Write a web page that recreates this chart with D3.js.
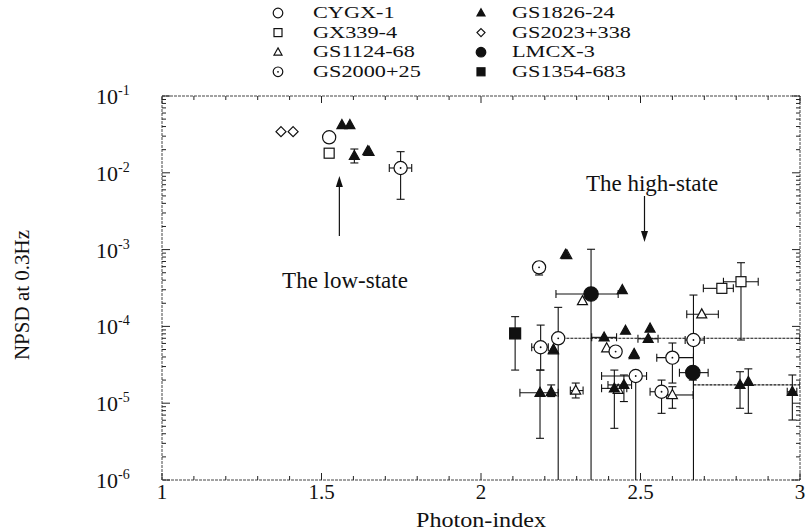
<!DOCTYPE html>
<html><head><meta charset="utf-8">
<script src="https://cdn.jsdelivr.net/npm/d3@7/dist/d3.min.js"></script>
<style>body{margin:0;background:#fff}svg{display:block}</style>
</head><body><svg id="c" width="811" height="532" font-family="'Liberation Serif','DejaVu Serif',serif"></svg>
<script>
// Each row: [photonIndex, NPSD, xLow, xHigh, yLow, yHigh]
const cygx1 = [[1.524, 0.029]];
const gx339 = [[1.524, 0.018], [2.755, 3.13e-4, 2.697, 2.791], [2.815, 3.82e-4, 2.760, 2.869, 6.65e-5, 6.75e-4]];
const gs1124 = [[1.649, 0.0188], [2.269, 8.5e-4], [2.318, 2.14e-4], [2.227, 4.9e-5], [2.394, 5.2e-5], [2.480, 4.25e-5],
  [2.692, 1.44e-4, 2.645, 2.744], [2.600, 1.28e-5, 2.582, 2.665, 8.59e-6, 1.64e-5], [2.297, 1.46e-5, 2.28, 2.32, 1.17e-5, 1.83e-5], [2.43, 1.5e-5]];
const gs2000 = [[1.748, 0.01155, 1.7125, 1.7828, 0.00452, 0.01884], [2.182, 5.87e-4, null, null, 4.67e-4, 6.95e-4],
  [2.242, 7.0e-5, 2.23, 3.0, 1e-7, 1.77e-4], [2.187, 5.35e-5, 2.159, 2.211, 2.7e-5, 1.04e-4], [2.422, 4.7e-5],
  [2.485, 2.26e-5, 2.378, 2.519, 1e-7, 2.6e-5], [2.666, 6.65e-5, 2.64, 2.70, 1e-7, 2.56e-4],
  [2.600, 3.92e-5, 2.551, 2.666, 1.83e-5, 6.08e-5], [2.566, 1.41e-5, 2.530, 2.582, 7.38e-6, 2.0e-5]];
const gs1826 = [[1.564, 0.042], [1.589, 0.042], [1.603, 0.0166, null, null, 0.01343, 0.0204], [1.645, 0.0192], [2.265, 8.6e-4],
  [2.443, 2.98e-4], [2.386, 7.2e-5, 2.347, 2.425], [2.453, 8.8e-5], [2.530, 9.4e-5], [2.524, 6.9e-5, 2.492, 2.555],
  [2.227, 5.0e-5], [2.480, 4.4e-5], [2.812, 1.73e-5, 2.666, 3.0, 8.59e-6, 2.57e-5], [2.838, 1.9e-5, null, null, 7.38e-6, 2.8e-5],
  [2.976, 1.41e-5, 2.96, 2.99, 6.04e-6, 2.33e-5], [2.185, 1.37e-5, 2.122, 2.242, 3.49e-6, 2.7e-5], [2.22, 1.4e-5, null, null, 1.22e-5, 1.73e-5],
  [2.418, 1.56e-5, 2.378, 2.457, 4.71e-6, 2.7e-5], [2.448, 1.73e-5, 2.398, 2.472, 1.05e-5, 2.33e-5]];
const gs2023 = [[1.373, 0.0343], [1.411, 0.0343]];
const lmcx3 = [[2.345, 2.64e-4, 2.235, 2.430, 1e-7, 1.01e-3], [2.664, 2.5e-5, 2.622, 2.712, 2.0e-5, 3.0e-5]];
const gs1354 = [[2.107, 8.1e-5, null, null, 2.7e-5, 1.34e-4]];

const seriesNames = ["CYGX-1", "GX339-4", "GS1124-68", "GS2000+25", "GS1826-24", "GS2023+338", "LMCX-3", "GS1354-683"];
const seriesData = [cygx1, gx339, gs1124, gs2000, gs1826, gs2023, lmcx3, gs1354];
const seriesShape = ["circle", "square", "triangle", "dotcircle", "ftriangle", "diamond", "fcircle", "fsquare"];
const xTicks = [1, 1.5, 2, 2.5, 3];
const yTicks = [1e-1, 1e-2, 1e-3, 1e-4, 1e-5, 1e-6];
const yTickExp = ["-1", "-2", "-3", "-4", "-5", "-6"];

const svg = d3.select("#c");
const L = 162, R = 800, T = 96, B = 480;
const x = d3.scaleLinear().domain([1, 3]).range([L, R]);
const y = d3.scaleLog().domain([1e-6, 1e-1]).range([B, T]);

svg.append("defs").append("clipPath").attr("id", "pc").append("rect").attr("x", L).attr("y", T).attr("width", R - L).attr("height", B - T);

// frame
svg.append("rect").attr("x", L).attr("y", T).attr("width", R - L).attr("height", B - T)
  .attr("fill", "none").attr("stroke", "#444").attr("stroke-width", 1).attr("stroke-dasharray", "3,1");

// axes with inward ticks
const ax = svg.append("g").attr("stroke", "#222").attr("stroke-width", 1);
d3.range(1, 3.0001, 0.1).forEach(v => {
  const major = Math.abs(v * 2 - Math.round(v * 2)) < 1e-6;
  const len = major ? 7 : 4;
  ax.append("line").attr("x1", x(v)).attr("x2", x(v)).attr("y1", B).attr("y2", B - len);
  ax.append("line").attr("x1", x(v)).attr("x2", x(v)).attr("y1", T).attr("y2", T + len);
});
for (let e = -6; e <= -1; e++) {
  for (let m = 1; m <= 9; m++) {
    const v = m * Math.pow(10, e);
    const len = m === 1 ? 8 : 4;
    ax.append("line").attr("x1", L).attr("x2", L + len).attr("y1", y(v)).attr("y2", y(v));
    ax.append("line").attr("x1", R).attr("x2", R - len).attr("y1", y(v)).attr("y2", y(v));
    if (e === -1) break;
  }
}

// tick labels
xTicks.forEach(v => {
  svg.append("text").attr("x", x(v)).attr("y", 499).attr("text-anchor", "middle").attr("font-size", 21).attr("fill", "#111").text(d3.format("")(v));
});
yTicks.forEach((v, i) => {
  const t = svg.append("text").attr("x", 96).attr("y", y(v) + 8).attr("font-size", 22).attr("fill", "#111");
  t.append("tspan").text("10");
  t.append("tspan").attr("dy", -9).attr("font-size", 14).text(yTickExp[i]);
});
svg.append("text").attr("x", 481).attr("y", 527).attr("text-anchor", "middle").attr("font-size", 21).attr("fill", "#111")
  .attr("transform", "translate(481,0) scale(1.15,1) translate(-481,0)").text("Photon-index");
svg.append("text").attr("transform", "translate(29,295) rotate(-90)").attr("text-anchor", "middle").attr("font-size", 21).attr("fill", "#111").text("NPSD at 0.3Hz");

// symbols
function drawSym(g, shape, cx, cy, s) {
  const open = !shape.startsWith("f");
  let el;
  if (shape === "circle" || shape === "dotcircle" || shape === "fcircle") {
    el = g.append("circle").attr("cx", cx).attr("cy", cy).attr("r", s * 0.6);
  } else if (shape === "square" || shape === "fsquare") {
    el = g.append("rect").attr("x", cx - s / 2).attr("y", cy - s / 2).attr("width", s).attr("height", s);
  } else if (shape === "triangle" || shape === "ftriangle") {
    const h = s * 0.9;
    el = g.append("path").attr("d", `M${cx},${cy - h * 0.6}L${cx + s / 2},${cy + h * 0.4}L${cx - s / 2},${cy + h * 0.4}Z`);
  } else if (shape === "diamond") {
    el = g.append("path").attr("d", `M${cx},${cy - s / 2}L${cx + s / 2},${cy}L${cx},${cy + s / 2}L${cx - s / 2},${cy}Z`);
  }
  el.attr("stroke", "#111").attr("stroke-width", 1.2).attr("fill", open ? "#fff" : "#111");
  if (shape === "dotcircle") g.append("circle").attr("cx", cx).attr("cy", cy).attr("r", 0.9).attr("fill", "#111");
}

// error bars
const eb = svg.append("g").attr("clip-path", "url(#pc)").attr("stroke", "#111").attr("stroke-width", 1.1).attr("fill", "none");
seriesData.forEach(arr => arr.forEach(d => {
  const [px, py, xl, xh, yl, yh] = d;
  const cx = x(px), cy = y(py);
  if (xl != null) {
    eb.append("line").attr("x1", x(xl)).attr("x2", x(xh)).attr("y1", cy).attr("y2", cy).attr("stroke-dasharray", (xh - xl) > 0.2 ? "3,1" : null);
    eb.append("line").attr("x1", x(xl)).attr("x2", x(xl)).attr("y1", cy - 4).attr("y2", cy + 4);
    eb.append("line").attr("x1", x(xh)).attr("x2", x(xh)).attr("y1", cy - 4).attr("y2", cy + 4);
  }
  if (yl != null) {
    eb.append("line").attr("x1", cx).attr("x2", cx).attr("y1", y(yl)).attr("y2", y(yh));
    eb.append("line").attr("x1", cx - 4).attr("x2", cx + 4).attr("y1", y(yh)).attr("y2", y(yh));
    eb.append("line").attr("x1", cx - 4).attr("x2", cx + 4).attr("y1", y(yl)).attr("y2", y(yl));
  }
}));

// markers
const mk = svg.append("g");
const sizes = {circle: 11, dotcircle: 11, fcircle: 12, square: 10, fsquare: 11, triangle: 10, ftriangle: 10, diamond: 10};
seriesData.forEach((arr, i) => arr.forEach(d => drawSym(mk, seriesShape[i], x(d[0]), y(d[1]), sizes[seriesShape[i]])));

// legend
const lg = svg.append("g");
seriesNames.forEach((n, i) => {
  const col = i < 4 ? 0 : 1, row = i % 4;
  const sx = col ? 481 : 278, tx = col ? 512 : 313;
  const by = 18 + row * 19.6;
  drawSym(lg, seriesShape[i], sx, by - 5, 8);
  lg.append("text").attr("x", tx).attr("y", by).attr("font-size", 16.5).attr("fill", "#111")
    .attr("transform", `translate(${tx},0) scale(1.35,1) translate(${-tx},0)`).text(n);
});

// annotations
const ar = svg.append("g").attr("stroke", "#111").attr("stroke-width", 1.2);
const lowX = x(1.556), highX = x(2.5) + 4;
ar.append("line").attr("x1", lowX).attr("x2", lowX).attr("y1", 236).attr("y2", 182);
svg.append("path").attr("d", `M${lowX},176l-3.5,11l7,0Z`).attr("fill", "#111");
svg.append("text").attr("x", 345).attr("y", 288).attr("text-anchor", "middle").attr("font-size", 23).attr("fill", "#111").text("The low-state");
ar.append("line").attr("x1", highX).attr("x2", highX).attr("y1", 196).attr("y2", 236);
svg.append("path").attr("d", `M${highX},242l-3.5,-11l7,0Z`).attr("fill", "#111");
svg.append("text").attr("x", 652).attr("y", 191).attr("text-anchor", "middle").attr("font-size", 23).attr("fill", "#111").text("The high-state");
</script></body></html>
